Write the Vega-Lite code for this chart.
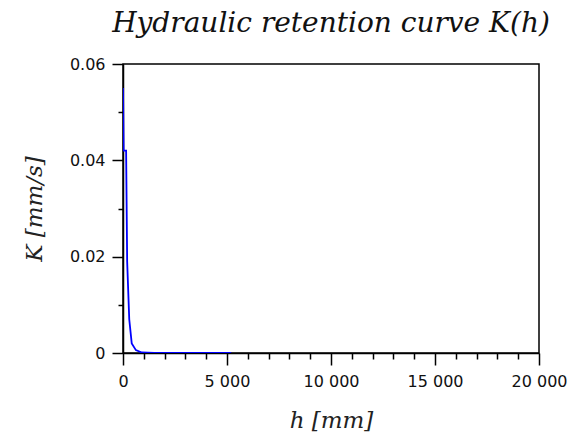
{
  "$schema": "https://vega.github.io/schema/vega-lite/v6.json",
  "width": 416,
  "height": 289,
  "autosize": {"type": "none"},
  "padding": {"left": 123, "top": 64, "right": 37, "bottom": 92},
  "background": "white",
  "title": {
    "text": "Hydraulic retention curve K(h)",
    "font": "DejaVu Serif",
    "fontStyle": "italic",
    "fontWeight": "normal",
    "fontSize": 28,
    "color": "#111",
    "anchor": "middle",
    "offset": 18
  },
  "config": {
    "view": {"stroke": "black", "strokeWidth": 1.5},
    "axis": {
      "domainColor": "black",
      "domainWidth": 1.5,
      "tickColor": "black",
      "tickWidth": 1.5,
      "labelFont": "DejaVu Sans",
      "labelFontSize": 16,
      "labelColor": "#111",
      "labelOverlap": false,
      "labelFlush": false,
      "grid": false,
      "titleFont": "DejaVu Serif",
      "titleFontStyle": "italic",
      "titleFontWeight": "normal",
      "titleFontSize": 23,
      "titleColor": "#222"
    }
  },
  "data": {
    "values": [
      {"h": 0, "K": 0.055},
      {"h": 30, "K": 0.042},
      {"h": 150, "K": 0.042},
      {"h": 200, "K": 0.019},
      {"h": 300, "K": 0.007},
      {"h": 420, "K": 0.002},
      {"h": 620, "K": 0.0006},
      {"h": 900, "K": 0.0001},
      {"h": 1500, "K": 0.00002},
      {"h": 3000, "K": 0.0},
      {"h": 5200, "K": 0.0}
    ]
  },
  "mark": {"type": "line", "color": "#0000ff", "strokeWidth": 1.8, "clip": true},
  "encoding": {
    "x": {
      "field": "h",
      "type": "quantitative",
      "scale": {"domain": [0, 20000], "nice": false},
      "axis": {
        "title": "h [mm]",
        "values": [0,1000,2000,3000,4000,5000,6000,7000,8000,9000,10000,11000,12000,13000,14000,15000,16000,17000,18000,19000,20000],
        "tickSize": {"condition": {"test": "datum.value % 5000 === 0", "value": 12}, "value": 6},
        "labelExpr": "datum.value % 5000 === 0 ? replace(format(datum.value, ','), ',', ' ') : ''",
        "labelPadding": 8,
        "titlePadding": 20
      }
    },
    "y": {
      "field": "K",
      "type": "quantitative",
      "scale": {"domain": [0, 0.06], "nice": false},
      "axis": {
        "title": "K [mm/s]",
        "values": [0, 0.01, 0.02, 0.03, 0.04, 0.05, 0.06],
        "tickSize": {"condition": {"test": "round(datum.value * 100) % 2 === 0", "value": 11}, "value": 5},
        "labelExpr": "round(datum.value * 100) % 2 === 0 ? format(datum.value, '~g') : ''",
        "labelPadding": 7,
        "titlePadding": 23
      }
    }
  }
}
